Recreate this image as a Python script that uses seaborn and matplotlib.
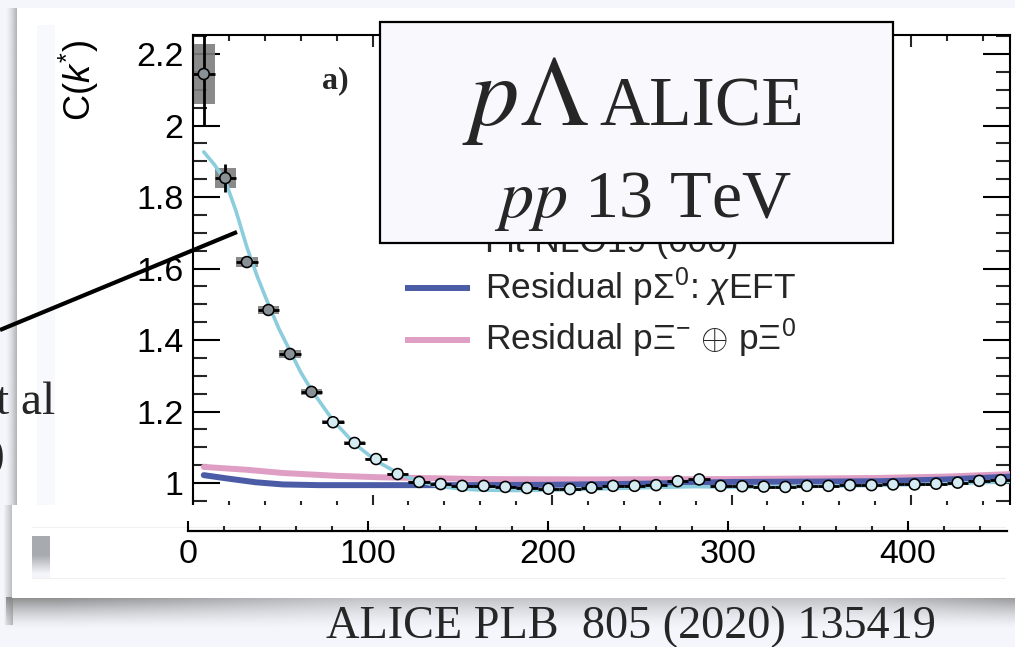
import numpy as np
import pandas as pd
import matplotlib
matplotlib.use("Agg")
import matplotlib.pyplot as plt
import seaborn as sns
from matplotlib.patches import Rectangle
from matplotlib.ticker import FixedLocator, MultipleLocator, NullFormatter, FixedFormatter

# ---------------- data ----------------
k_star = [6, 18, 30, 42, 54, 66, 78, 90, 102, 114, 126, 138, 150, 162, 174, 186,
          198, 210, 222, 234, 246, 258, 270, 282, 294, 306, 318, 330, 342, 354,
          366, 378, 390, 402, 414, 426, 438, 450]
c_data = [2.144, 1.853, 1.618, 1.484, 1.361, 1.255, 1.170, 1.112, 1.067, 1.025,
          1.003, 0.997, 0.992, 0.992, 0.989, 0.986, 0.984, 0.983, 0.987, 0.992,
          0.992, 0.994, 1.005, 1.010, 0.992, 0.991, 0.990, 0.989, 0.992, 0.992,
          0.994, 0.994, 0.996, 0.996, 0.998, 1.001, 1.006, 1.008]
c_stat = [0.143, 0.038, 0.012, 0.008, 0.006, 0.005, 0.004, 0.004, 0.003, 0.003,
          0.003, 0.003, 0.003, 0.003, 0.003, 0.003, 0.003, 0.003, 0.003, 0.003,
          0.003, 0.003, 0.003, 0.003, 0.003, 0.003, 0.003, 0.003, 0.003, 0.003,
          0.003, 0.003, 0.003, 0.003, 0.003, 0.003, 0.003, 0.003]
c_syst = [0.083, 0.027, 0.013, 0.011, 0.010, 0.009, 0.006, 0.005, 0.004, 0.004,
          0.003, 0.003, 0.003, 0.003, 0.003, 0.003, 0.003, 0.003, 0.003, 0.003,
          0.003, 0.003, 0.003, 0.003, 0.003, 0.003, 0.003, 0.003, 0.003, 0.003,
          0.003, 0.003, 0.003, 0.003, 0.003, 0.003, 0.003, 0.003]
k_half_bin = 6

fit_k = [6, 12, 18, 24, 30, 36, 42, 48, 54, 60, 66, 78, 90, 102, 114, 126, 138,
         150, 162, 180, 200, 230, 260, 280, 300, 340, 380, 420, 456]
fit_c = [1.926, 1.89, 1.845, 1.76, 1.66, 1.575, 1.50, 1.43, 1.37, 1.31, 1.26,
         1.175, 1.11, 1.062, 1.028, 1.004, 0.99, 0.983, 0.98, 0.979, 0.98, 0.984,
         0.988, 0.99, 0.988, 0.99, 0.993, 0.998, 1.004]

sigma_k = [6, 20, 35, 50, 70, 100, 150, 200, 250, 300, 350, 383, 420, 456]
sigma_c = [1.022, 1.012, 1.002, 0.996, 0.994, 0.994, 0.994, 0.995, 0.998, 1.003,
           1.004, 1.005, 1.010, 1.018]

xi_k = [6, 30, 50, 80, 104, 160, 220, 300, 380, 420, 456]
xi_c = [1.045, 1.037, 1.028, 1.020, 1.016, 1.011, 1.010, 1.011, 1.014, 1.018, 1.025]

y_ticks = [1.0, 1.2, 1.4, 1.6, 1.8, 2.0, 2.2]
y_tick_labels = ["1", "1.2", "1.4", "1.6", "1.8", "2", "2.2"]
x_ticks = [0, 100, 200, 300, 400]
x_tick_labels = ["0", "100", "200", "300", "400"]

legend_labels = ["Fit NLO19 (600)",
                 r"Residual p$\Sigma^{0}$: $\chi$EFT",
                 r"Residual p$\Xi^{-}$ $\oplus$ p$\Xi^{0}$"]

# ---------------- style ----------------
sns.set_theme(style="ticks")
plt.rcParams["font.family"] = ["Liberation Sans", "DejaVu Sans"]
plt.rcParams["mathtext.fontset"] = "custom"
plt.rcParams["mathtext.rm"] = "Liberation Sans"
plt.rcParams["mathtext.it"] = "Liberation Sans:italic"
plt.rcParams["mathtext.sf"] = "Liberation Sans"

C_FIT = "#8bcddd"
C_SIG = "#4b5ba6"
C_XI = "#df9fc4"

W, H = 1015, 647
fig = plt.figure(figsize=(W / 100, H / 100), dpi=100)
fig.patch.set_facecolor("#f4f6fc")


def pax(x0, y0, x1, y1):
    return [x0 / W, 1 - y1 / H, (x1 - x0) / W, (y1 - y0) / H]


# ---------------- background (slide) ----------------
bg = fig.add_axes([0, 0, 1, 1], zorder=0)
bg.set_xlim(0, W)
bg.set_ylim(H, 0)
bg.axis("off")
grad = np.linspace(0, 1, 12)
sh = np.zeros((1, 12, 4))
sh[..., :3] = 0.6
sh[0, :, 3] = grad ** 1.5 * 0.7
bg.imshow(sh, extent=(5, 17, 505, 8), aspect="auto", interpolation="bilinear", zorder=1)
bg.add_patch(Rectangle((17, 8), W - 17, 497, fc="white", ec="none", zorder=2))
bg.add_patch(Rectangle((37, 25), 18, 480, fc="#f7f9fd", ec="none", zorder=2))

# ---------------- main axes ----------------
ax = fig.add_axes(pax(193, 35, 1010, 507), zorder=5)
ax.set_facecolor("none")
ax.set_xlim(0, (1010 - 193) / 1.795)
ax.set_ylim(1 - 24 / 357.5, 1 + 448 / 357.5)

k = np.array(k_star, dtype=float)
c = np.array(c_data)
syst = np.array(c_syst)
ax.bar(k, 2 * syst, bottom=c - syst, width=2 * k_half_bin, color="#7d7d7d",
       alpha=0.9, linewidth=0, zorder=2)

sns.lineplot(x=xi_k, y=xi_c, color=C_XI, lw=4.3, ax=ax, zorder=3, sort=False)
sns.lineplot(x=sigma_k, y=sigma_c, color=C_SIG, lw=4.3, ax=ax, zorder=3.5, sort=False)
sns.lineplot(x=fit_k, y=fit_c, color=C_FIT, lw=2.6, ax=ax, zorder=4, sort=False)

ax.errorbar(k, c, xerr=k_half_bin, yerr=c_stat, fmt="none", ecolor="black",
            elinewidth=2.0, capsize=0, zorder=5)
df = pd.DataFrame({"k": k, "c": c, "grp": np.where(k < 70, "a", "b")})
sns.scatterplot(data=df, x="k", y="c", hue="grp",
                palette={"a": "#8a9196", "b": "#d3ebf1"}, s=62,
                edgecolor="black", linewidth=1.15, legend=False, ax=ax, zorder=6)

ax.set_xlabel("")
ax.set_ylabel("")
for s in ax.spines.values():
    s.set_linewidth(1.5)
    s.set_color("black")
    s.set_visible(True)
ax.yaxis.set_major_locator(FixedLocator(y_ticks))
ax.yaxis.set_major_formatter(FixedFormatter(y_tick_labels))
ax.yaxis.set_minor_locator(MultipleLocator(0.05))
ax.xaxis.set_major_locator(MultipleLocator(100))
ax.xaxis.set_minor_locator(MultipleLocator(20))
ax.xaxis.set_major_formatter(NullFormatter())
ax.tick_params(axis="y", which="major", direction="in", length=19.5, width=1.5,
               left=True, right=True, labelsize=24.5, pad=7, colors="black")
ax.tick_params(axis="y", which="minor", direction="in", length=10, width=1.5,
               left=True, right=True)
ax.tick_params(axis="x", which="major", direction="in", length=8.6, width=1.5,
               top=True, bottom=True)
ax.tick_params(axis="x", which="minor", direction="in", length=4.3, width=1.5,
               top=True, bottom=True)

# ---------------- overlay (slide decorations) ----------------
ov = fig.add_axes([0, 0, 1, 1], zorder=10)
ov.set_xlim(0, W)
ov.set_ylim(H, 0)
ov.axis("off")
ov.patch.set_alpha(0)

ov.text(79, 80, r"C($k^{*}$)", rotation=90, ha="center", va="center",
        fontsize=26, color="black")
ov.text(322, 88, "a)", fontsize=23, fontweight="bold", family="Liberation Serif",
        ha="left", va="baseline")

ov.text(485, 252, legend_labels[0], fontsize=25.5, ha="left", va="baseline", zorder=1)
ov.plot([405, 470], [288, 288], color=C_SIG, lw=4.3, solid_capstyle="butt", zorder=1)
ov.text(485, 299, legend_labels[1], fontsize=25.5, ha="left", va="baseline", zorder=1)
ov.plot([405, 470], [340, 340], color=C_XI, lw=4.3, solid_capstyle="butt", zorder=1)
ov.text(485, 350, legend_labels[2], fontsize=25.5, ha="left", va="baseline", zorder=1)

ov.add_patch(Rectangle((380, 22), 513, 221, fc="#f8f8fd", ec="black", lw=1.6, zorder=5))
ov.text(462, 125, r"$p\Lambda$", fontsize=71, math_fontfamily="stix",
        ha="left", va="baseline", zorder=6)
ov.text(599, 125, "ALICE", fontsize=50, family="Liberation Serif",
        ha="left", va="baseline", zorder=6)
ov.text(643, 217, r"$pp$ 13 TeV", fontsize=49, family="Liberation Serif",
        math_fontfamily="stix", ha="center", va="baseline", zorder=6)

ov.plot([0, 237], [330, 232], color="black", lw=3, solid_capstyle="butt", zorder=7)
ov.text(55, 414, "et al", fontsize=34, family="Liberation Serif", ha="right",
        va="baseline", zorder=7)
ov.text(4, 468, ")", fontsize=34, family="Liberation Serif", ha="right",
        va="baseline", zorder=7)

shw = np.zeros((32, 400, 4))
shw[..., :3] = 0.45
xs = np.linspace(0, 1, 400)
hmod = 0.5 + 0.5 * np.clip(1 - (xs - 0.05) / 0.3, 0, 1) + 0.4 * np.clip((xs - 0.85) / 0.15, 0, 1)
vmod = (1 - np.linspace(0, 1, 32)) ** 1.5
shw[..., 3] = np.clip(np.outer(vmod, hmod) * 0.8, 0, 1)
ov.imshow(shw, extent=(6, W, 630, 597), aspect="auto", interpolation="bilinear", zorder=2)
lsh = np.zeros((1, 10, 4))
lsh[..., :3] = 0.5
lsh[0, :, 3] = np.linspace(0, 0.5, 10)
ov.imshow(lsh, extent=(3, 13, 625, 505), aspect="auto", interpolation="bilinear", zorder=2)
ov.add_patch(Rectangle((12, 505), W - 12, 93, fc="white", ec="none", zorder=3))
ov.plot([32, 1005], [527, 527], color="#f0f0f0", lw=0.8, zorder=3.5)
ov.plot([32, 1005], [578, 578], color="#f0f0f0", lw=0.8, zorder=3.5)
gg = np.zeros((40, 1, 4))
tt = np.linspace(0, 1, 40)
col = np.clip((tt - 0.45) / 0.45, 0, 1)
gg[:, 0, 0] = 0.655 + col * (0.953 - 0.655)
gg[:, 0, 1] = 0.667 + col * (0.961 - 0.667)
gg[:, 0, 2] = 0.686 + col * (0.984 - 0.686)
gg[..., 3] = 1
ov.imshow(gg, extent=(32, 50, 578, 536), aspect="auto", interpolation="bilinear", zorder=3.6)

ov.text(631, 638, "ALICE PLB  805 (2020) 135419", fontsize=33.3,
        family="Liberation Serif", ha="center", va="baseline", zorder=4)

# ---------------- strip axis ----------------
sx = fig.add_axes(pax(188, 511, 1007, 531), zorder=20)
sx.set_facecolor("none")
sx.set_xlim(0, (1007 - 188) / 1.8)
sx.set_ylim(0, 1)
for name in ["top", "left", "right"]:
    sx.spines[name].set_visible(False)
sx.spines["bottom"].set_linewidth(1.6)
sx.spines["bottom"].set_color("black")
sx.set_yticks([])
sx.xaxis.set_major_locator(FixedLocator(x_ticks))
sx.xaxis.set_major_formatter(FixedFormatter(x_tick_labels))
sx.xaxis.set_minor_locator(MultipleLocator(20))
sx.tick_params(axis="x", which="major", direction="in", length=7, width=1.5,
               labelsize=24.5, pad=6, colors="black")
sx.tick_params(axis="x", which="minor", direction="in", length=3.5, width=1.5)

fig.savefig("out.png", dpi=100, facecolor=fig.get_facecolor())
